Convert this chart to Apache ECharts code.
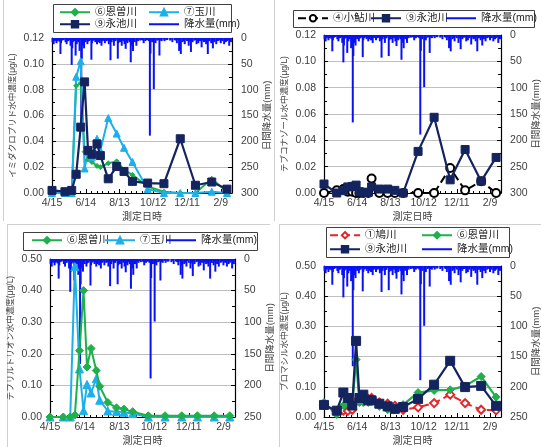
<!DOCTYPE html>
<html><head><meta charset="utf-8">
<script src="https://cdn.jsdelivr.net/npm/echarts@6/dist/echarts.min.js"></script>
<style>html,body{margin:0;padding:0;background:#fff}#c{width:542px;height:447px}</style>
</head><body><div id="c"></div>
<script>
// x values are days after 4/15 (axis runs 4/15 .. 3/1)
const tickLabels = ['4/15','6/14','8/13','10/12','12/11','2/9'];
const sampleDay = [0, 23, 35, 43, 51, 58, 64, 71, 80, 86, 100, 115, 128, 143, 170, 199, 228, 255, 284, 311];

// Panel 1: imidacloprid (ug/L)
const imi_onzo   = [0, 0, 0.0005, 0.083, 0.085, 0.032, 0.026, 0.024, 0.021, 0.020, 0.023, 0.0245, 0.018, 0.014, 0.005, 0.001, 0, 0, 0.011, 0.001];
const imi_tama   = [0, 0, 0, 0.090, 0.102, 0.019, 0.032, 0.028, 0.042, 0.033, 0.058, 0.046, 0.035, 0.024, 0.003, 0, 0, 0, 0.001, 0];
const imi_nagaike= [0.002, 0.001, 0.002, 0.0145, 0.051, 0.086, 0.033, 0.030, 0.038, 0.029, 0.011, 0.0205, 0.0167, 0.009, 0.0077, 0.0072, 0.042, 0.006, 0.0085, 0.003];
// Panel 2: tebuconazole
const teb_koayu  = [0, 0.002, 0.003, 0.001, 0.001, 0, 0, 0, 0, 0.011, 0, 0, 0, 0, 0, 0, 0.019, 0.002, 0.009, 0];
const teb_nagaike= [0.0068, 0, 0.0018, 0.0046, 0.005, 0.006, 0.001, 0.0005, 0.0005, 0.0046, 0.003, 0.003, 0.002, 0, 0.0316, 0.0575, 0.010, 0.033, 0.009, 0.027];
// Panel 3: tefuryltrione
const tef_onzo   = [0, 0, 0, 0.006, 0.21, 0.40, 0.158, 0.217, 0.147, 0.097, 0.046, 0.029, 0.025, 0.017, 0.004, 0.004, 0.004, 0.004, 0.004, 0.004];
const tef_tama   = [0, 0, 0, 0.476, 0.152, 0.020, 0.103, 0.076, 0.121, 0.053, 0.019, 0.017, 0.015, 0.011, 0, 0, 0, 0, 0, 0];
// Panel 4: bromacil
const bro_hato   = [0.040, 0.019, 0.021, 0.020, 0.024, 0.052, 0.055, 0.063, 0.060, 0.063, 0.048, 0.044, 0.037, 0.024, 0.032, 0.046, 0.074, 0.046, 0.024, 0.022];
const bro_onzo   = [0.048, 0.008, 0.038, 0.046, 0.040, 0.190, 0.048, 0.048, 0.048, 0.052, 0.035, 0.024, 0.024, 0.041, 0.081, 0.088, 0.090, 0.103, 0.134, 0.066];
const bro_nagaike= [0.040, 0.021, 0.081, 0.063, 0.038, 0.252, 0.063, 0.074, 0.055, 0.055, 0.044, 0.035, 0.027, 0.033, 0.060, 0.107, 0.186, 0.099, 0.103, 0.037];

// Daily rainfall (mm): day after 4/15, amount
const rainDay = [1,3,5,8,12,15,16,20,24,26,29,33,35,36,39,42,44,47,49,52,53,55,57,60,63,66,70,71,74,77,80,83,85,88,91,94,97,101,104,106,110,113,117,118,121,124,127,129,131,134,138,140,142,144,147,150,153,157,160,163,166,170,174,175,178,181,184,187,191,195,200,205,210,214,218,222,226,227,229,232,236,240,243,247,250,253,257,260,263,266,270,274,277,280,283,286,289,292,296,300,303,306,309,312,315,318,
  2,6,9,10,13,18,22,27,31,37,40,45,50,54,58,61,64,68,72,76,79,82,86,90,93,99,103,108,112,115,120,126,133,136,146,151,155,162,168,172,177,183,189,193,198,203,212,220,224,234,238,245,249,255,259,262,268,272,276,279,285,288,295,298,302,308,311,314,317];
const rainMm  = [8,12,6,10,5,31,10,4,8,12,6,15,52,20,6,34,12,8,25,166,40,15,20,8,12,6,42,10,5,8,12,6,10,15,5,10,6,12,43,8,15,6,40,10,8,15,6,12,21,10,8,47,15,25,8,15,6,5,4,10,6,4,189,30,8,99,10,5,34,6,6,4,5,8,4,10,25,10,31,8,12,6,15,27,8,5,12,10,6,18,8,12,31,6,10,20,8,12,5,10,6,12,8,4,15,8,
  5,4,6,3,7,5,3,6,4,8,5,6,4,9,5,3,7,4,6,3,5,8,4,6,3,5,7,4,6,3,5,4,7,5,6,4,3,5,4,6,3,7,4,5,3,4,3,5,4,6,3,7,5,4,6,3,5,7,4,6,5,3,6,4,5,3,6,4,7];

const FONT = '"Liberation Sans", "Noto Sans CJK JP", sans-serif';
const COL = {navy:'#14245f', sky:'#1cb0ea', green:'#1fb04c', rain:'#0a12f5', black:'#000000', red:'#e3262b'};
const grids = [
  {left:52, top:38, width:180, height:155},
  {left:324, top:35, width:186, height:158},
  {left:50, top:259, width:185, height:160},
  {left:324, top:266, width:185, height:151}
];
const leftNames = ['イミダクロプリド水中濃度(μg/L)','テブコナゾール水中濃度(μg/L)','テフリルトリオン水中濃度(μg/L)','ブロマシル水中濃度(μg/L)'];
const leftMax = [0.12, 0.12, 0.5, 0.5];
const leftInt = [0.02, 0.02, 0.1, 0.1];
const rightMax = [300, 300, 250, 250];

const xAxes = [], yAxes = [];
grids.forEach((g, i) => {
  xAxes.push({
    gridIndex:i, type:'value', min:0, max:320, interval:60,
    axisLine:{show:true, lineStyle:{color:'#000', width:1}},
    axisTick:{show:true, inside:true, length:4, lineStyle:{color:'#000'}},
    minorTick:{show:true, splitNumber:6, length:2, lineStyle:{color:'#000'}},
    splitLine:{show:false},
    axisLabel:{fontFamily:FONT, fontSize:10.5, color:'#404040', margin:5,
      formatter:v => (v % 60 === 0 && v/60 < tickLabels.length) ? tickLabels[v/60] : ''},
    name:'測定日時', nameLocation:'middle', nameGap:19,
    nameTextStyle:{fontFamily:FONT, fontSize:10, color:'#404040'}
  });
  yAxes.push({
    gridIndex:i, type:'value', position:'left', min:0, max:leftMax[i], interval:leftInt[i],
    axisLine:{show:true, lineStyle:{color:'#000', width:1.2}},
    axisTick:{show:true, inside:true, length:4, lineStyle:{color:'#000'}},
    minorTick:{show:true, splitNumber:2, length:3, lineStyle:{color:'#000'}},
    splitLine:{show:true, lineStyle:{color:'#bfbfbf', width:1}},
    axisLabel:{fontFamily:FONT, fontSize:10.5, color:'#404040', margin:8, formatter:v => v.toFixed(2)},
    name:leftNames[i], nameLocation:'middle', nameGap:35, nameRotate:90,
    nameTextStyle:{fontFamily:FONT, fontSize:8.5, color:'#404040'}
  });
  yAxes.push({
    gridIndex:i, type:'value', position:'right', inverse:true, min:0, max:rightMax[i], interval:50,
    axisLine:{show:true, lineStyle:{color:'#000', width:1.2}},
    axisTick:{show:true, inside:true, length:4, lineStyle:{color:'#000'}},
    minorTick:{show:true, splitNumber:2, length:3, lineStyle:{color:'#000'}},
    splitLine:{show:false},
    axisLabel:{fontFamily:FONT, fontSize:10.5, color:'#404040', margin:9},
    name:'日間降水量(mm)', nameLocation:'middle', nameGap:30, nameRotate:90,
    nameTextStyle:{fontFamily:FONT, fontSize:9.5, color:'#404040'}
  });
});

const pairs = arr => sampleDay.map((d, k) => [d, arr[k]]);
const rainData = rainDay.map((d, k) => [d, rainMm[k]]);

function lineS(name, i, arr, color, symbol, size, opts) {
  opts = opts || {};
  return {
    name, type:'line', xAxisIndex:i, yAxisIndex:2*i, data:pairs(arr),
    symbol, symbolSize:size, showSymbol:true,
    lineStyle:{color, width:opts.width || 2, type:opts.dash ? 'dashed' : 'solid'},
    itemStyle:{color, borderColor:color, borderWidth:opts.bw || 1},
    z:opts.z || 3, animation:false
  };
}
function rainS(i) {
  return [
    {name:'rain', type:'bar', xAxisIndex:i, yAxisIndex:2*i+1, data:rainData,
      barWidth:2, itemStyle:{color:COL.rain}, z:1, animation:false},
    // legend entry drawn as a plain line
    {name:'降水量(mm)', type:'line', xAxisIndex:i, yAxisIndex:2*i+1, data:[], symbol:'circle', symbolSize:0,
      lineStyle:{color:COL.rain, width:2}, itemStyle:{color:COL.rain, opacity:0}}
  ];
}

const series = [
  ...rainS(0),
  lineS('⑥恩曽川', 0, imi_onzo, COL.green, 'diamond', 5, {width:2}),
  lineS('⑦玉川', 0, imi_tama, COL.sky, 'triangle', 7, {width:2}),
  lineS('⑨永池川', 0, imi_nagaike, COL.navy, 'rect', 8, {width:2.2, z:4}),
  ...rainS(1),
  lineS('④小鮎川', 1, teb_koayu, COL.black, 'emptyCircle', 8, {dash:true, width:2}),
  lineS('⑨永池川', 1, teb_nagaike, COL.navy, 'rect', 8, {width:2.2, z:4}),
  ...rainS(2),
  lineS('⑥恩曽川', 2, tef_onzo, COL.green, 'diamond', 8, {width:2, z:4}),
  lineS('⑦玉川', 2, tef_tama, COL.sky, 'triangle', 8, {width:2}),
  ...rainS(3),
  lineS('①鳩川', 3, bro_hato, COL.red, 'emptyDiamond', 8, {dash:true, width:2}),
  lineS('⑥恩曽川', 3, bro_onzo, COL.green, 'diamond', 8, {width:2.2}),
  lineS('⑨永池川', 3, bro_nagaike, COL.navy, 'rect', 9, {width:2.2, z:4})
];

function leg(name, left, top) {
  return {
    data:[name], left, top, orient:'horizontal', padding:0,
    itemWidth:30, itemHeight:8, selectedMode:false,
    textStyle:{fontFamily:FONT, fontSize:10.5, color:'#222'}
  };
}
const legends = [
  leg('⑥恩曽川', 59, 7), leg('⑦玉川', 148, 7), leg('⑨永池川', 59, 19), leg('降水量(mm)', 148, 19),
  leg('④小鮎川', 297, 13), leg('⑨永池川', 370, 13), leg('降水量(mm)', 445, 13),
  leg('⑥恩曽川', 31, 235), leg('⑦玉川', 104, 235), leg('降水量(mm)', 165, 235),
  leg('①鳩川', 329, 230), leg('⑥恩曽川', 421, 230), leg('⑨永池川', 329, 244), leg('降水量(mm)', 421, 244)
];

const box = (x, y, w, h) => ({type:'rect', shape:{x, y, width:w, height:h}, style:{fill:'none', stroke:'#404040', lineWidth:1}, silent:true});
const ln = (x1, y1, x2, y2) => ({type:'line', shape:{x1, y1, x2, y2}, style:{stroke:'#d0d0d0', lineWidth:1}, silent:true});

const option = {
  animation:false,
  backgroundColor:'#ffffff',
  textStyle:{fontFamily:FONT},
  grid:grids.map(g => Object.assign({containLabel:false}, g)),
  xAxis:xAxes, yAxis:yAxes, legend:legends, series,
  graphic:[
    box(53.5, 4.5, 178, 28), box(293.5, 10.5, 241, 17), box(23.5, 232.5, 234, 18), box(326.5, 227.5, 183, 30),
    ln(3.5, 0, 3.5, 221), ln(274.5, 0, 274.5, 221), ln(7, 224.5, 270, 224.5), ln(279, 224.5, 541, 224.5),
    ln(7.5, 225, 7.5, 447), ln(279.5, 225, 279.5, 447)
  ]
};
echarts.init(document.getElementById('c')).setOption(option);
</script></body></html>
